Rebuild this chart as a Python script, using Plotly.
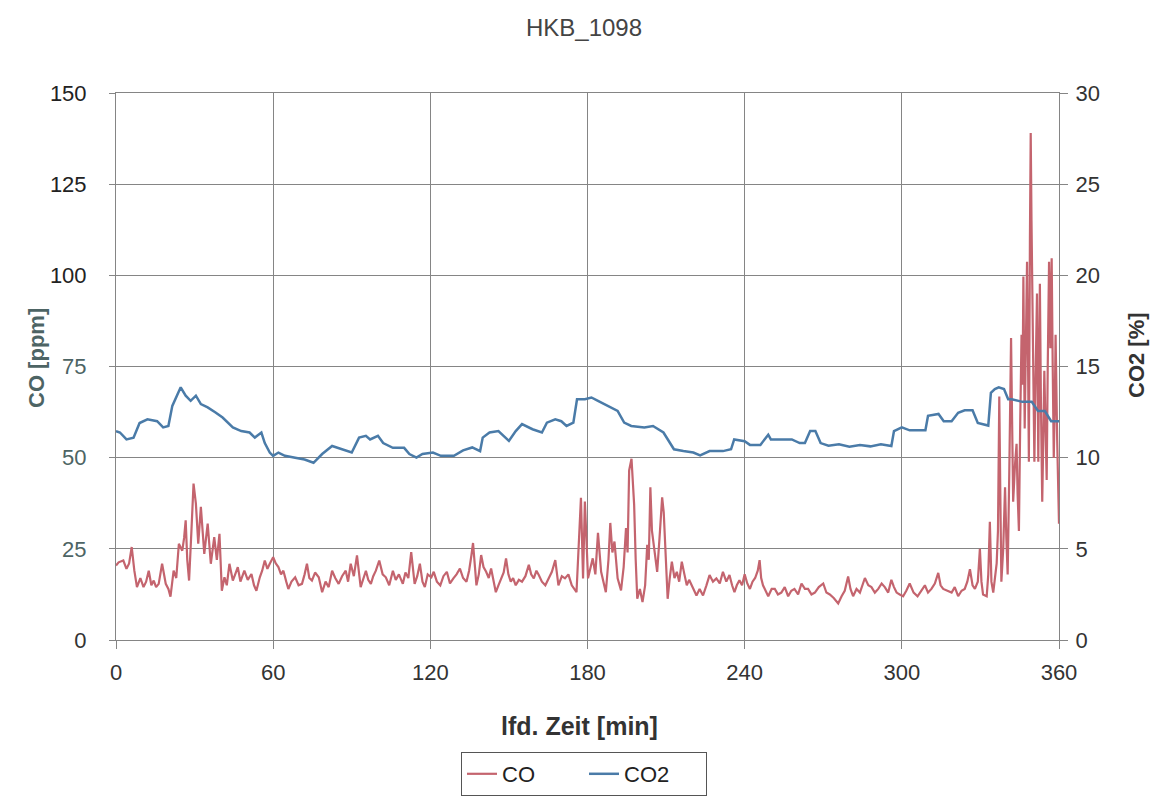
import plotly.graph_objects as go

# ---- data ----
co_t = [0,1,2.8,4,5,6,7,8,9.3,10.5,11.5,12.5,13.5,14.4,15.3,16.3,17.6,19,20,20.8,22,23,24,25.3,26,26.6,27.2,27.9,28.8,29.6,30.5,31.4,32.4,33.7,35,36.2,37.5,38.5,39.5,40.4,41.4,42.3,43.3,44.6,45.5,46.5,47.5,49,50.3,51.7,52.7,53.6,54.9,55.8,56.8,57.8,58.7,60,61,62,63,63.9,65,65.8,67,68.4,69.7,71,72,72.9,73.8,74.8,76,77.4,78.7,80,81.2,82.5,83.7,85,86.3,87.7,88.6,89.6,90.8,92,93.4,94.4,95.4,96.3,97.3,98.2,99.2,100.5,101.8,103,104.3,105.7,106.8,108,109.5,110.5,111.6,112.7,114,115,116,117,117.9,119,120.4,121.3,122.5,123.8,125,126.3,127.5,128.8,130,131.3,132.5,133.8,134.8,135.7,136.3,137.6,138.5,139.4,140.3,141.3,142.3,143.2,144.1,145,146,147,148,148.9,149.8,150.7,151.6,152.6,153.8,155,156.3,157.6,158.5,159.5,160.5,161.4,162.6,163.9,165.1,166.4,167.7,168.9,170.2,171.4,172.7,174,175.8,176.5,177.5,178.3,179,180.2,181.1,182,183,184,185.2,186.1,187,188,188.7,189.5,190.3,191.5,192.8,193.8,194.7,195.3,195.9,196.8,197.8,198.4,199,200,201,202,202.8,203.4,204,204.6,205.3,206,206.6,207.5,208.5,209.1,209.7,210.6,211.4,212.2,213.2,214.1,215,216,217,217.9,218.8,219.7,220.6,221.6,222.8,224.1,225.4,226.6,227.9,229.2,230.5,231.7,233,234.2,235.2,236.1,237,238,239,240,241,242,243,244,245,245.7,246.3,247,248,249,250.3,251.5,252.7,254,255.3,256.6,257.8,259,260.4,261.7,263,264.2,265.5,266.8,268.3,270,271.2,272.5,274,275.7,277,278.2,279.5,280.4,281.4,282.7,284,285,285.9,287.2,288.4,289.7,291,292.3,293.5,294.8,296,297,298,299.2,300.5,301.7,303,304.5,306,307.4,308.8,310,311.3,312.6,313.9,314.8,315.8,317.4,319,320.2,321.5,322.8,324,325,326,327,327.9,329,329.8,330.4,331,332.4,333,333.6,334.2,334.9,335.6,336.2,336.7,337.2,337.6,338,338.7,339.4,339.9,340.4,341,341.7,342.1,342.5,343.2,343.8,344.2,344.7,345.2,345.7,346.1,346.4,346.9,347.3,347.8,348.2,348.5,348.9,349.2,349.5,349.8,350.2,350.6,350.9,351.2,351.6,352.1,352.4,352.7,353.1,353.6,354,354.4,354.8,355.3,355.7,356.2,356.7,357.2,357.6,358,358.4,358.7,359.3,360]
co_ppm = [20.4,21.3,21.8,19.5,21,25.5,19,14.5,17,14.5,16,19,15,16.3,14.5,15.4,20.9,15.4,14,11.9,19,17,26.4,24.5,28,32.8,22,16.3,30,42.9,37.4,26.4,36.5,23.6,31.9,20.9,28.2,22,29.1,13.5,17.2,15,20.9,16.3,18,20,16,19,16.5,18.1,15,13.5,17.2,19,21.8,19.5,20.9,22.7,21,20,18,19,16,14,16,17.2,15,15.4,18,20.9,17,16.3,18.5,17.2,13.1,16,14.5,19,17,15.4,17.5,19,16,20.9,17.5,23.2,14.5,17,19,16.5,15.4,17.5,19,21.8,18,17.2,15,19,16.5,18,15.4,18.5,17,24.1,15.4,17.5,20.9,16,14.5,18,17.2,18.7,16,15,17.5,18.7,15.5,16.9,18,19.6,17,16,19,23.3,26.6,15,18,23.3,20,18.7,17,19.6,16,13.1,15,16.9,18.5,22.4,18,16,17,15,16.5,16,17.5,20.6,18,16.9,19,17.8,16,15,17,18.7,21.9,15,17.5,16.9,18,15,13.1,24.3,39,16.9,38,16.9,20,22.4,18,29.4,18.7,16,13.1,22,32.1,24,27,16.9,13.6,20,30.7,24,46.5,49.7,37.2,22,11.3,14,10.4,15,26.1,22,41.9,30,26.1,22,18.7,28,39.1,35,26.1,11.3,17,21.5,17,18.7,16,21.5,18,15,16.5,15,13.5,12.2,14,12.2,15,17.8,16,16.9,15.5,18.7,16,17.8,15,13.1,15,16.4,15,18,15.5,14,16,17,19,21.9,17,15,13.5,12,14,14,12.5,13,14.5,12,13.5,14,12.5,15.5,14,14,12.5,13,14.5,15.5,13,12.5,11.5,10,12,13.5,17.4,14,12,14,13,15,17,15,14.5,13,14,15.5,14.5,13,16.5,14.5,13,12.5,12,13.5,15.5,13,12,13.5,15,13,14,15.5,18.4,15,14,13.5,13,14.5,12,13.5,14,16,19.4,15,14,16,25,16,12.5,12,18,32.4,16,13,17,21,30,66.8,40,16,25,41.9,28,18,45,82.8,60,37.9,48,53.8,40,29.9,60,83.7,70,99.7,58,73.8,103.7,75,48.9,110,139,115,91.7,70,48.9,65,83.7,95,48.9,70,97.7,65,37.9,55,73.8,60,43.9,75,103.7,80,104.7,75,49.9,65,83.7,55,31.9]

co2_t = [0,1.5,4,6.7,9,12,15.7,18,20,21.5,24.7,26.6,28.5,30.5,32.4,35,38,40.7,44.6,47.8,51,53,55.5,56.8,58.7,60,62,64.5,68.4,72,75.4,78.7,82.5,86.4,90,92.8,95.4,97,100,102,105.7,110,112,114.7,117,121,124,129,132.5,136,139,140,142.6,146,150,152.6,155,159,162.6,164.5,167.7,170,172,174.6,176,179,181.5,184,188,191.5,194,196.7,201.7,205,209,213,216.6,220.4,223,226.6,231.7,234.8,236,240,242,246,249,250,258,261,263,265,267,269,272,276,280,284,288,292,296,297,300,303,309,310,314,316,319,321.5,324,327,329,332,333,334,335.5,337,339,340.6,342,346,349.6,352,354.6,357,360]
co2_pct = [11.46,11.38,11.0,11.1,11.9,12.1,12.0,11.66,11.74,12.84,13.86,13.4,13.12,13.4,12.94,12.76,12.48,12.2,11.66,11.46,11.38,11.1,11.38,10.8,10.28,10.1,10.28,10.1,10.0,9.9,9.72,10.2,10.64,10.46,10.28,11.1,11.2,11.0,11.2,10.8,10.54,10.54,10.2,10.0,10.2,10.28,10.1,10.1,10.4,10.56,10.36,11.1,11.38,11.46,10.92,11.46,11.84,11.56,11.38,11.92,12.1,12.0,11.74,11.92,13.2,13.2,13.3,13.12,12.84,12.56,11.92,11.74,11.66,11.74,11.38,10.46,10.36,10.28,10.12,10.36,10.36,10.46,11.0,10.9,10.7,10.7,11.26,11.0,11.0,10.8,10.8,11.46,11.46,10.8,10.66,10.74,10.6,10.7,10.62,10.74,10.64,11.46,11.66,11.5,11.5,12.3,12.4,12.0,12.0,12.46,12.6,12.6,11.9,11.8,11.76,13.56,13.76,13.86,13.76,13.2,13.2,13.06,13.06,12.56,12.56,12.0,12.0]

x_ticks = [0, 60, 120, 180, 240, 300, 360]
y_ticks = [0, 25, 50, 75, 100, 125, 150]
y_tick_colors = ["#333333", "#4d6464", "#4d6464", "#4d6464", "#222222", "#222222", "#222222"]
y2_ticks = [0, 5, 10, 15, 20, 25, 30]

FONT = "Liberation Sans, Arial, sans-serif"
GRID = "#858585"

fig = go.Figure()
fig.add_trace(go.Scatter(x=co_t, y=co_ppm, name="CO", mode="lines",
                         line=dict(color="#c4646e", width=2.2)))
fig.add_trace(go.Scatter(x=co2_t, y=co2_pct, name="CO2", mode="lines", yaxis="y2",
                         line=dict(color="#4a7ba8", width=2.5)))

fig.update_layout(
    width=1168, height=798,
    margin=dict(l=116, r=109, t=93, b=158, autoexpand=False),
    paper_bgcolor="white", plot_bgcolor="white",
    font=dict(family=FONT, color="#333333"),
    title=dict(text="HKB_1098", x=0.5, xanchor="center", y=1 - 28/798, yanchor="middle",
               yref="container", font=dict(size=24, color="#444444")),
    xaxis=dict(range=[0, 360], tickvals=x_ticks, ticktext=[str(v) for v in x_ticks],
               showgrid=True, gridcolor=GRID, gridwidth=1,
               showline=True, linecolor=GRID, mirror=True, zeroline=False,
               ticks="outside", ticklen=8, tickcolor=GRID, ticklabelstandoff=5,
               tickfont=dict(size=22, color="#333333"), automargin=False),
    yaxis=dict(range=[0, 150], tickvals=y_ticks,
               ticktext=[f"<span style='color:{c}'>{v}</span>" for v, c in zip(y_ticks, y_tick_colors)],
               showgrid=True, gridcolor=GRID, gridwidth=1,
               showline=True, linecolor=GRID, mirror=True, zeroline=False,
               ticks="outside", ticklen=6, tickcolor=GRID, ticklabelstandoff=18,
               tickfont=dict(size=22, color="#333333"), automargin=False),
    yaxis2=dict(range=[0, 30], tickvals=y2_ticks, ticktext=[str(v) for v in y2_ticks],
                overlaying="y", side="right", showgrid=False, zeroline=False,
                showline=False, ticks="outside", ticklen=8, tickcolor=GRID,
                ticklabelstandoff=3, tickfont=dict(size=22, color="#333333"), automargin=False),
    legend=dict(orientation="h", x=0.5, xanchor="center", xref="container",
                y=1 - 752/798, yanchor="top", yref="container",
                bordercolor="#555555", borderwidth=1, bgcolor="white",
                entrywidth=77, entrywidthmode="pixels",
                font=dict(size=22, color="#222222"), traceorder="normal"),
    showlegend=True,
    annotations=[
        dict(text="<b>CO [ppm]</b>", xref="paper", yref="paper", x=(36-116)/943, y=(640-358)/547,
             textangle=-90, showarrow=False, xanchor="center", yanchor="middle",
             font=dict(size=22, color="#4d6464")),
        dict(text="<b>CO2 [%]</b>", xref="paper", yref="paper", x=(1136-116)/943, y=(640-355)/547,
             textangle=-90, showarrow=False, xanchor="center", yanchor="middle",
             font=dict(size=22, color="#333333")),
        dict(text="<b>lfd. Zeit [min]</b>", xref="paper", yref="paper", x=(579-116)/943,
             y=(640-726)/547, showarrow=False, xanchor="center", yanchor="middle",
             font=dict(size=25, color="#333333")),
    ],
)

fig.write_html("out.html")
